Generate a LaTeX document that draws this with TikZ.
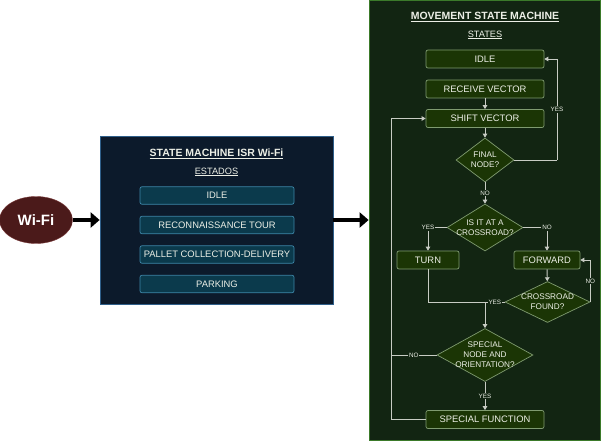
\documentclass[tikz,border=0pt]{standalone}
\usepackage{fontspec}
\setmainfont{Liberation Sans}
\usepackage{xcolor}
\usetikzlibrary{shapes.geometric,arrows.meta,positioning}

\definecolor{navybg}{HTML}{0C1A2B}
\definecolor{navyedge}{HTML}{2F5F8A}
\definecolor{tealbox}{HTML}{0B3A4C}
\definecolor{tealedge}{HTML}{3D86A8}
\definecolor{greenbg}{HTML}{122512}
\definecolor{greenedge}{HTML}{3B7A2A}
\definecolor{statefill}{HTML}{1B3505}
\definecolor{stateedge}{HTML}{7F9B70}
\definecolor{wifired}{HTML}{4B1A1A}
\definecolor{wifiedge}{HTML}{7A3A3A}
\definecolor{flowline}{HTML}{C8CCC4}
\definecolor{softwhite}{HTML}{ECEFE6}

\tikzset{
  isrstate/.style={draw=tealedge, fill=tealbox, rounded corners=2pt, line width=0.7pt,
    minimum width=154pt, minimum height=17.5pt, inner sep=0pt, text=softwhite,
    font=\fontsize{9.4}{11}\selectfont},
  mstate/.style={draw=stateedge, fill=statefill, rounded corners=2pt, line width=0.7pt,
    minimum width=118pt, minimum height=18pt, inner sep=0pt, text=softwhite,
    font=\fontsize{9.4}{11}\selectfont},
  decision/.style={diamond, draw=stateedge, fill=statefill, line width=0.7pt, inner sep=0pt},
  dtext/.style={align=center, text=softwhite, inner sep=0pt,
    font=\fontsize{8.2}{10}\selectfont},
  heading/.style={text=softwhite, font=\bfseries\fontsize{10.5}{12}\selectfont},
  subheading/.style={text=softwhite, font=\fontsize{9.2}{11}\selectfont},
  lbl/.style={fill=greenbg, text=softwhite, inner sep=0.8pt, font=\fontsize{6.3}{7}\selectfont},
  flow/.style={draw=flowline, line width=0.9pt, -{Triangle[length=4pt,width=4.5pt]}},
  plain/.style={draw=flowline, line width=0.9pt},
  bigarrow/.style={line width=4.5pt, -{Triangle[length=9pt,width=15pt]}}
}

\begin{document}
\begin{tikzpicture}[x=1pt, y=-1pt]
    \useasboundingbox (0,0) rectangle (602,441);

    % Wi-Fi side
    \node[ellipse, draw=wifiedge, fill=wifired, minimum width=73pt, minimum height=47pt,
          inner sep=0pt, text=white, font=\bfseries\fontsize{15}{17}\selectfont] (wifi) at (36,220) {Wi-Fi};

    \node[draw=navyedge, fill=navybg, line width=0.7pt, minimum width=233pt, minimum height=168pt,
          inner sep=0pt] (isr) at (216.5,220) {};
    \node[heading] (isrtitle) at (216.5,154) {\underline{STATE MACHINE ISR Wi-Fi}};
    \node[subheading] (estados) at (216.5,172) {\underline{ESTADOS}};
    \node[isrstate] (isridle) at (217,195.5) {IDLE};
    \node[isrstate] (recon) at (217,225) {RECONNAISSANCE TOUR};
    \node[isrstate] (pallet) at (217,254.5) {PALLET COLLECTION-DELIVERY};
    \node[isrstate] (parking) at (217,284) {PARKING};

    \draw[bigarrow] (wifi) -- (isr);

    % movement state machine
    \node[draw=greenedge, fill=greenbg, line width=0.8pt, minimum width=231pt, minimum height=440pt,
          inner sep=0pt] (move) at (484.5,220.5) {};
    \node[heading] (movetitle) at (485,17) {\underline{MOVEMENT STATE MACHINE}};
    \node[subheading] (states) at (485,35) {\underline{STATES}};

    \draw[bigarrow] (isr.east) -- (isr.east -| move.west);

    \node[mstate] (idle) at (485,59) {IDLE};
    \node[mstate] (recv) at (485,89) {RECEIVE VECTOR};
    \node[mstate] (shift) at (485,118.5) {SHIFT VECTOR};
    \node[decision, minimum width=58pt, minimum height=44pt,
          label={[dtext]center:{FINAL\\NODE?}}] (final) at (485,160) {};
    \node[decision, minimum width=76pt, minimum height=47pt,
          label={[dtext]center:{IS IT AT A\\CROSSROAD?}}] (cross) at (485,227.5) {};
    \node[mstate, minimum width=62pt] (turn) at (428,260) {TURN};
    \node[mstate, minimum width=66pt] (fwd) at (547,260) {FORWARD};
    \node[decision, minimum width=85pt, minimum height=41pt,
          label={[dtext]center:{CROSSROAD\\FOUND?}}] (cfound) at (547.5,302) {};
    \node[decision, minimum width=96pt, minimum height=53pt,
          label={[dtext]center:{SPECIAL\\NODE AND\\ORIENTATION?}}] (special) at (485,355) {};
    \node[mstate] (sfunc) at (485,419.5) {SPECIAL FUNCTION};

    \coordinate (yesbend) at (557,160);
    \coordinate (merge) at (485,302);
    \coordinate (back) at (391,419.5);

    \draw[flow] (recv) -- (shift);
    \draw[flow] (shift) -- (final);
    \draw[plain] (final.east) -- (yesbend);
    \draw[flow] (yesbend) |- node[lbl, pos=0.25] {YES} (idle.east);
    \draw[flow] (final) -- node[lbl] {NO} (cross);
    \draw[flow] (cross.west) -| node[lbl, pos=0.5] {YES} (turn);
    \draw[flow] (cross.east) -| node[lbl, pos=0.5] {NO} (fwd);
    \draw[flow] (fwd) -- (cfound);
    \draw[flow] (cfound.east) |- node[lbl, pos=0.25] {NO} (fwd.east);
    \draw[plain] (turn) |- (merge);
    \draw[plain] (cfound.west) -- node[lbl] {YES} (merge);
    \draw[flow] (merge) -- (special);
    \draw[flow] (special) -- node[lbl] {YES} (sfunc);
    \draw[flow] (sfunc.west) -- (back) |- (shift.west);
    \draw[plain] (special.west) -- node[lbl] {NO} (special.west -| back);
\end{tikzpicture}
\end{document}
